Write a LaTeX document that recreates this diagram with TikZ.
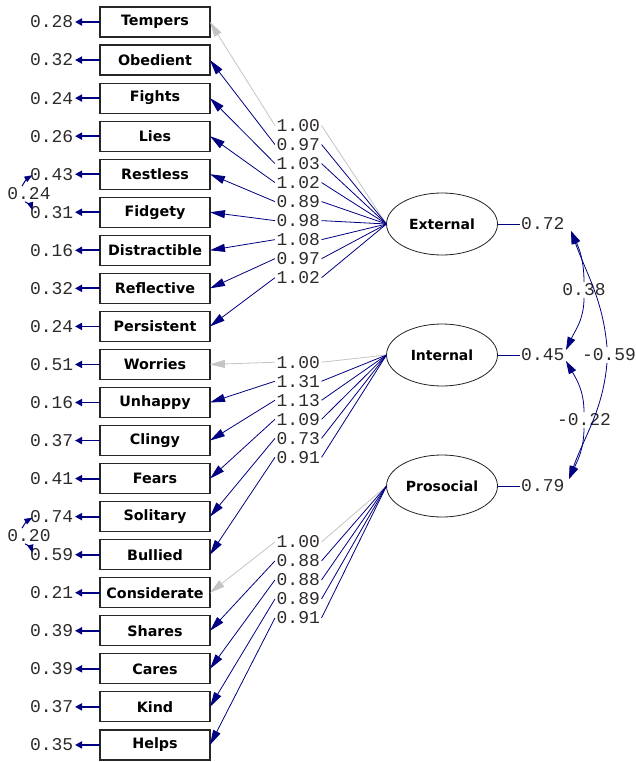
\documentclass[tikz,border=0pt]{standalone}
\usepackage{fontspec}
\setmainfont{DejaVu Sans}
\newfontfamily\numfont{Liberation Mono}
\usetikzlibrary{arrows.meta,positioning,shapes.geometric}
\definecolor{PathNavy}{HTML}{000080}
\definecolor{PathGray}{HTML}{C4C4C4}
\definecolor{NumInk}{HTML}{2E2A2A}

\begin{document}
\begin{tikzpicture}[x=1pt,y=-1pt,
    node distance=8.05pt,
    obs/.style={draw=black!85,line width=1.1pt,minimum width=110pt,minimum height=30pt,
      inner sep=0pt,outer sep=0pt,font=\fontsize{14.3}{15}\selectfont\bfseries},
    lat/.style={ellipse,draw=black!85,line width=0.8pt,minimum width=111pt,minimum height=62pt,
      inner sep=0pt,outer sep=0pt,font=\fontsize{14}{15}\selectfont\bfseries},
    num/.style={font=\numfont\fontsize{18}{18}\selectfont,text=NumInk,inner sep=1.5pt},
    link/.style={PathNavy,line width=0.8pt},
    load/.style={-{Triangle[length=15pt,width=8pt]},PathNavy,line width=0.8pt},
    fixed/.style={load,color=PathGray},
    err/.style={-{Triangle[length=7pt,width=7pt]},PathNavy,line width=1.8pt},
    ecov/.style={-{Triangle[length=8pt,width=6pt]},PathNavy,line width=1pt},
    covend/.style={-{Triangle[length=13pt,width=8pt]},PathNavy,line width=0.8pt}
  ]
    \useasboundingbox (0,0) rectangle (636,762);

    % observed indicators
    \node[obs] (tem) at (155,22) {Tempers};
    \node[obs,below=of tem] (obe) {Obedient};
    \node[obs,below=of obe] (fig) {Fights};
    \node[obs,below=of fig] (lie) {Lies};
    \node[obs,below=of lie] (res) {Restless};
    \node[obs,below=of res] (fid) {Fidgety};
    \node[obs,below=of fid] (dis) {Distractible};
    \node[obs,below=of dis] (ref) {Reflective};
    \node[obs,below=of ref] (per) {Persistent};
    \node[obs,below=of per] (wor) {Worries};
    \node[obs,below=of wor] (unh) {Unhappy};
    \node[obs,below=of unh] (cli) {Clingy};
    \node[obs,below=of cli] (fea) {Fears};
    \node[obs,below=of fea] (sol) {Solitary};
    \node[obs,below=of sol] (bul) {Bullied};
    \node[obs,below=of bul] (con) {Considerate};
    \node[obs,below=of con] (sha) {Shares};
    \node[obs,below=of sha] (car) {Cares};
    \node[obs,below=of car] (kin) {Kind};
    \node[obs,below=of kin] (hel) {Helps};

    % latent factors
    \node[lat] (ext) at (442,224) {External};
    \node[lat] (int) at (442,355) {Internal};
    \node[lat] (pro) at (442,486) {Prosocial};

    % error variances
    \foreach \b/\v in {tem/0.28,obe/0.32,fig/0.24,lie/0.26,res/0.43,fid/0.31,dis/0.16,
        ref/0.32,per/0.24,wor/0.51,unh/0.16,cli/0.37,fea/0.41,sol/0.74,bul/0.59,
        con/0.21,sha/0.39,car/0.39,kin/0.37,hel/0.35}{
      \node[num,left=25pt of \b] (v\b) {\v};
      \draw[err] (\b) -- (v\b);
    }

    % error covariances
    \node[num] (c24) at (29,194) {0.24};
    \node[num] (c20) at (29,536) {0.20};
    \draw[ecov] ([xshift=-7pt]c24.north) to[bend left=15] ([xshift=4pt,yshift=-1pt]vres.west);
    \draw[ecov] ([xshift=-4pt]c24.south) to[bend left=25] ([xshift=4pt,yshift=2pt]vfid.west);
    \draw[ecov] ([xshift=-7pt]c20.north) to[bend left=15] ([xshift=4pt,yshift=-1pt]vsol.west);
    \draw[ecov] ([xshift=-4pt]c20.south) to[bend left=25] ([xshift=4pt,yshift=2pt]vbul.west);

    % fixed loadings
    \foreach \f/\b in {ext/tem,int/wor,pro/con}{
      \path (\f.west) -- node[num,yshift=-2.5pt] (l\b) {1.00} (\b.east);
      \draw[PathGray,line width=0.8pt] (\f.west) -- (l\b.east);
      \draw[fixed] (l\b.west) -- (\b.east);
    }

    % free loadings
    \foreach \f/\b/\v in {ext/obe/0.97,ext/fig/1.03,ext/lie/1.02,ext/res/0.89,ext/fid/0.98,
        ext/dis/1.08,ext/ref/0.97,ext/per/1.02,
        int/unh/1.31,int/cli/1.13,int/fea/1.09,int/sol/0.73,int/bul/0.91,
        pro/sha/0.88,pro/car/0.88,pro/kin/0.89,pro/hel/0.91}{
      \path (\f.west) -- node[num,yshift=-2.5pt] (l\b) {\v} (\b.east);
      \draw[link] (\f.west) -- (l\b.east);
      \draw[load] (l\b.west) -- (\b.east);
    }

    % factor variances
    \node[num,right=22pt of ext] (vext) {0.72};
    \node[num,right=22pt of int] (vint) {0.45};
    \node[num,right=22pt of pro] (vpro) {0.79};
    \draw[link] (ext) -- (vext);
    \draw[link] (int) -- (vint);
    \draw[link] (pro) -- (vpro);

    % factor covariances
    \node[num] (c38) at (584,290) {0.38};
    \node[num] (c59) at (609,355) {-0.59};
    \node[num] (c22) at (584,420) {-0.22};
    \coordinate (tipExt) at (571,231);
    \coordinate (tipIntA) at (566,350);
    \coordinate (tipIntB) at (566,361);
    \coordinate (tipPro) at (569,479);
    \draw[covend] (c38.north) to[out=90,in=-65] (tipExt);
    \draw[covend] (c38.south) to[out=-90,in=65] (tipIntA);
    \draw[covend] ([xshift=-2pt]c59.north) to[out=95,in=-70] (tipExt);
    \draw[covend] ([xshift=-2pt]c59.south) to[out=-95,in=70] (tipPro);
    \draw[covend] (c22.north) to[out=90,in=-60] (tipIntB);
    \draw[covend] (c22.south) to[out=-90,in=65] (tipPro);
  \end{tikzpicture}
\end{document}
